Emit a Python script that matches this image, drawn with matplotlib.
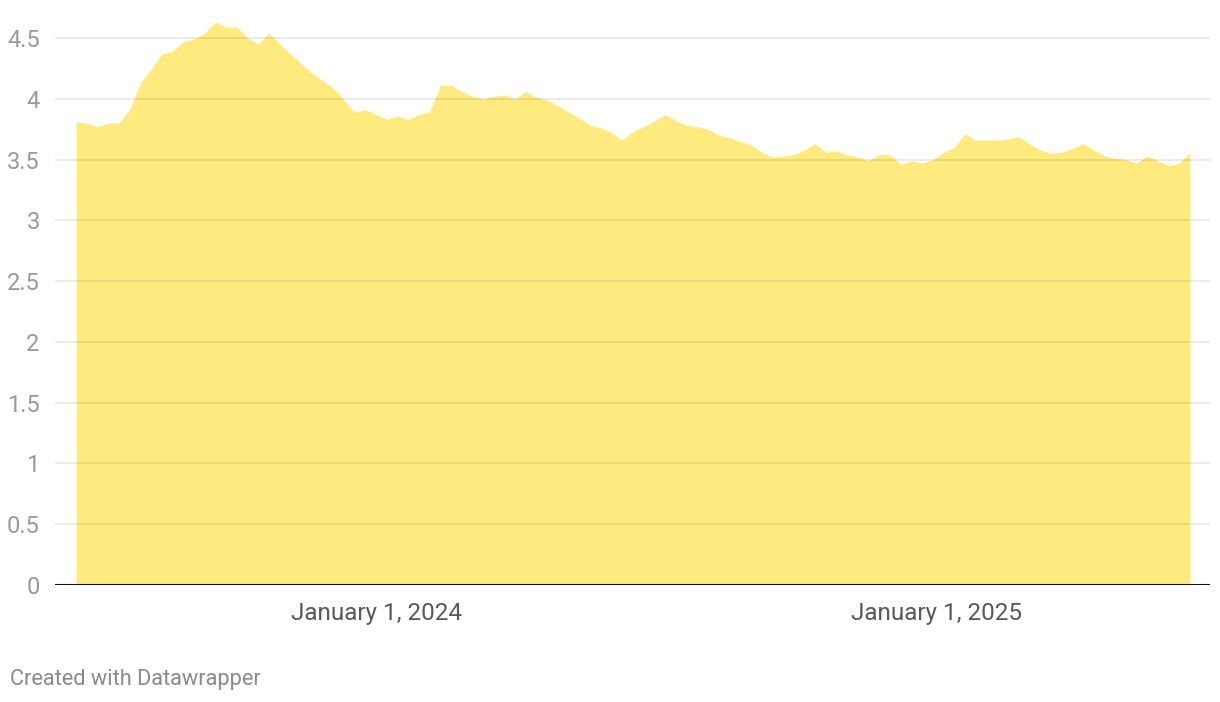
import matplotlib
matplotlib.use("Agg")
import matplotlib.pyplot as plt
import matplotlib.dates as mdates
import pandas as pd

# weekly values, mid-June 2023 to mid-June 2025
start_date = "2023-06-19"
values = [
    3.81, 3.80, 3.77, 3.80, 3.80, 3.91, 4.13, 4.24, 4.37, 4.39,
    4.47, 4.49, 4.54, 4.63, 4.59, 4.59, 4.50, 4.45, 4.54, 4.45,
    4.37, 4.29, 4.21, 4.15, 4.09, 3.99, 3.89, 3.91, 3.87, 3.83,
    3.86, 3.83, 3.87, 3.89, 4.11, 4.11, 4.06, 4.02, 4.00, 4.02,
    4.03, 4.00, 4.06, 4.01, 3.99, 3.94, 3.89, 3.84, 3.78, 3.76,
    3.72, 3.66, 3.73, 3.77, 3.82, 3.87, 3.82, 3.78, 3.77, 3.75,
    3.70, 3.68, 3.65, 3.62, 3.56, 3.52, 3.53, 3.54, 3.58, 3.63,
    3.56, 3.57, 3.54, 3.52, 3.49, 3.54, 3.54, 3.46, 3.49, 3.47,
    3.50, 3.56, 3.60, 3.71, 3.66, 3.66, 3.66, 3.67, 3.69, 3.63,
    3.58, 3.55, 3.56, 3.59, 3.63, 3.58, 3.53, 3.51, 3.50, 3.47,
    3.53, 3.49, 3.45, 3.47, 3.56,
]
dates = pd.date_range(start_date, periods=len(values), freq="7D")

y_ticks = [0, 0.5, 1, 1.5, 2, 2.5, 3, 3.5, 4, 4.5]
y_labels = ["0", "0.5", "1", "1.5", "2", "2.5", "3", "3.5", "4", "4.5"]
x_ticks = ["2024-01-01", "2025-01-01"]
x_labels = ["January 1, 2024", "January 1, 2025"]

plt.rcParams["font.family"] = ["Roboto", "DejaVu Sans"]

W, H = 1220, 702
fig = plt.figure(figsize=(W / 100, H / 100), dpi=100)
left, right, top, bottom = 55, 1210, 10, 585
ax = fig.add_axes([left / W, 1 - bottom / H, (right - left) / W, (bottom - top) / H])

ax.fill_between(dates, values, 0, color="#feea7f", linewidth=0, zorder=1)

# x range: Jan 1 2024 sits at px 376, one year spans 560 px
x0 = mdates.date2num(pd.Timestamp("2024-01-01"))
per_px = 366 / 560
ax.set_xlim(x0 - (376 - left) * per_px, x0 + (right - 376) * per_px)
ax.set_ylim(0, (bottom - top) / 121.56)

for t in y_ticks[1:]:
    ax.axhline(t, color="#000000", alpha=0.09, linewidth=1.2, zorder=2)
ax.axhline(0, color="#111111", linewidth=2.2, zorder=3)

ax.set_yticks(y_ticks)
ax.set_yticklabels(y_labels)
ax.set_xticks([pd.Timestamp(d) for d in x_ticks])
ax.set_xticklabels(x_labels)
ax.tick_params(axis="y", length=0, pad=11, labelsize=17, labelcolor="#9a9a9a")
ax.tick_params(axis="x", length=0, pad=12, labelsize=17.5, labelcolor="#595959")

for s in ax.spines.values():
    s.set_visible(False)

fig.text(10 / W, 1 - 680 / H, "Created with Datawrapper", fontsize=15.7,
         color="#8a8a8a", va="center", ha="left")

fig.savefig("out.png", dpi=100)
plt.close(fig)
